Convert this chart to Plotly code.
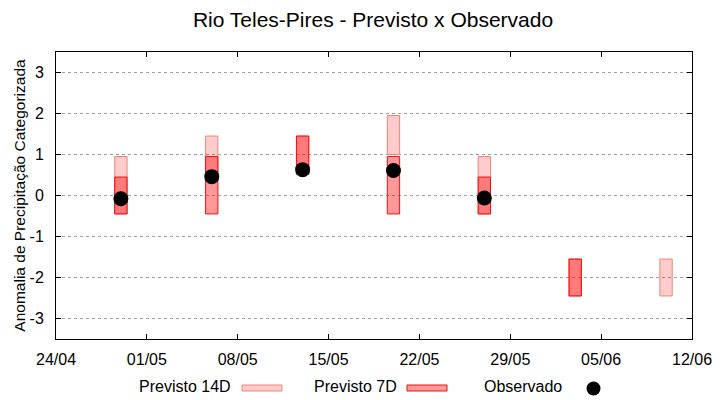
import plotly.graph_objects as go

# ---- data ----
dates = ["2024-04-29", "2024-05-06", "2024-05-13", "2024-05-20",
         "2024-05-27", "2024-06-03", "2024-06-10"]
p14_low = [-0.45, 0.45, 0.52, 1.0, -0.45, -2.45, -2.45]
p14_high = [0.95, 1.45, 1.45, 1.95, 0.95, -1.55, -1.55]
p7_low = [-0.45, -0.45, 0.52, -0.45, -0.45, -2.45, None]
p7_high = [0.45, 0.95, 1.45, 0.95, 0.45, -1.55, None]
obs = [-0.08, 0.46, 0.63, 0.61, -0.06, None, None]

x_ticks = ["2024-04-24", "2024-05-01", "2024-05-08", "2024-05-15",
           "2024-05-22", "2024-05-29", "2024-06-05", "2024-06-12"]
x_ticklabels = ["24/04", "01/05", "08/05", "15/05", "22/05", "29/05", "05/06", "12/06"]
y_ticks = [-3, -2, -1, 0, 1, 2, 3]
y_ticklabels = ["-3", "-2", "-1", "0", "1", "2", "3"]

title = "Rio Teles-Pires - Previsto x Observado"
ytitle = "Anomalia de Precipitação Categorizada"
leg_names = ["Previsto 14D", "Previsto 7D", "Observado"]

# ---- styles ----
FONT = "Liberation Sans"
C14_FILL = "rgba(255,0,0,0.2)"
C14_LINE = "#f4827a"
C7_FILL = "rgba(255,0,0,0.4)"
C7_LINE = "#f01010"
BAR_W = 0.95 * 86400000


def spans(lo, hi):
    return [None if (a is None or b is None) else b - a for a, b in zip(lo, hi)]


fig = go.Figure()
fig.add_trace(go.Bar(x=dates, y=spans(p14_low, p14_high), base=p14_low,
                     width=BAR_W, marker=dict(color=C14_FILL, line=dict(color=C14_LINE, width=1)),
                     name=leg_names[0], showlegend=False))
fig.add_trace(go.Bar(x=dates, y=spans(p7_low, p7_high), base=p7_low,
                     width=BAR_W, marker=dict(color=C7_FILL, line=dict(color=C7_LINE, width=1)),
                     name=leg_names[1], showlegend=False))
fig.add_trace(go.Scatter(x=dates, y=obs, mode="markers",
                         marker=dict(color="black", size=15, symbol="circle"),
                         name=leg_names[2], showlegend=False))

# ---- custom legend (gnuplot style: text then sample) ----
L, R, T, B = 56, 692, 52, 339
W, H = R - L, B - T


def px(v):
    return (v - L) / W


def py(v):
    return (B - v) / H


ty = 386.5
legend_items = [(233, 242, 282), (399, 407, 447)]
for (tx, s0, s1), name, fill, line in zip(legend_items, leg_names[:2],
                                          ["#ffcccc", "#ff9999"], [C14_LINE, C7_LINE]):
    fig.add_annotation(x=px(tx), y=py(ty), xref="paper", yref="paper", text=name,
                       showarrow=False, xanchor="right", yanchor="middle",
                       font=dict(family=FONT, size=16, color="black"))
    fig.add_shape(type="rect", xref="paper", yref="paper",
                  x0=px(s0), x1=px(s1), y0=py(391), y1=py(385),
                  fillcolor=fill, line=dict(color=line, width=1))
fig.add_annotation(x=px(564), y=py(ty), xref="paper", yref="paper", text=leg_names[2],
                   showarrow=False, xanchor="right", yanchor="middle",
                   font=dict(family=FONT, size=16, color="black"))
fig.add_shape(type="circle", xref="paper", yref="paper",
              x0=px(586.5), x1=px(600.5), y0=py(395.5), y1=py(381.5),
              fillcolor="black", line=dict(color="black", width=0))

fig.update_layout(
    width=720, height=400,
    margin=dict(l=L, r=720 - R, t=T, b=400 - B),
    paper_bgcolor="white", plot_bgcolor="white",
    barmode="overlay",
    font=dict(family=FONT, size=16, color="black"),
    title=dict(text=title, x=373 / 720, xanchor="center", y=1 - 20 / 400,
               yanchor="middle", yref="container",
               font=dict(family=FONT, size=21, color="black")),
    showlegend=False,
)
fig.update_xaxes(
    type="date", range=[x_ticks[0], x_ticks[-1]], automargin=False,
    tickmode="array", tickvals=x_ticks, ticktext=x_ticklabels,
    ticks="inside", ticklen=5, tickcolor="black", tickwidth=1,
    showline=True, linecolor="black", linewidth=1, mirror="ticks",
    showgrid=False, zeroline=False, ticklabelstandoff=6,
    tickfont=dict(family=FONT, size=16, color="black"),
)
fig.update_yaxes(
    range=[-3.5, 3.5], tickmode="array", tickvals=y_ticks, ticktext=y_ticklabels,
    automargin=False,
    ticks="inside", ticklen=5, tickcolor="black", tickwidth=1,
    showline=True, linecolor="black", linewidth=1, mirror="ticks",
    showgrid=True, gridcolor="#a0a0a0", griddash="dot", gridwidth=1,
    zeroline=False, ticklabelstandoff=8,
    tickfont=dict(family=FONT, size=16, color="black"),
    title=dict(text=ytitle, standoff=0, font=dict(family=FONT, size=15.5, color="black")),
)

fig.write_html("out.html", config={"displayModeBar": False},
               post_script="document.body.style.margin='0';document.body.style.padding='0';")
